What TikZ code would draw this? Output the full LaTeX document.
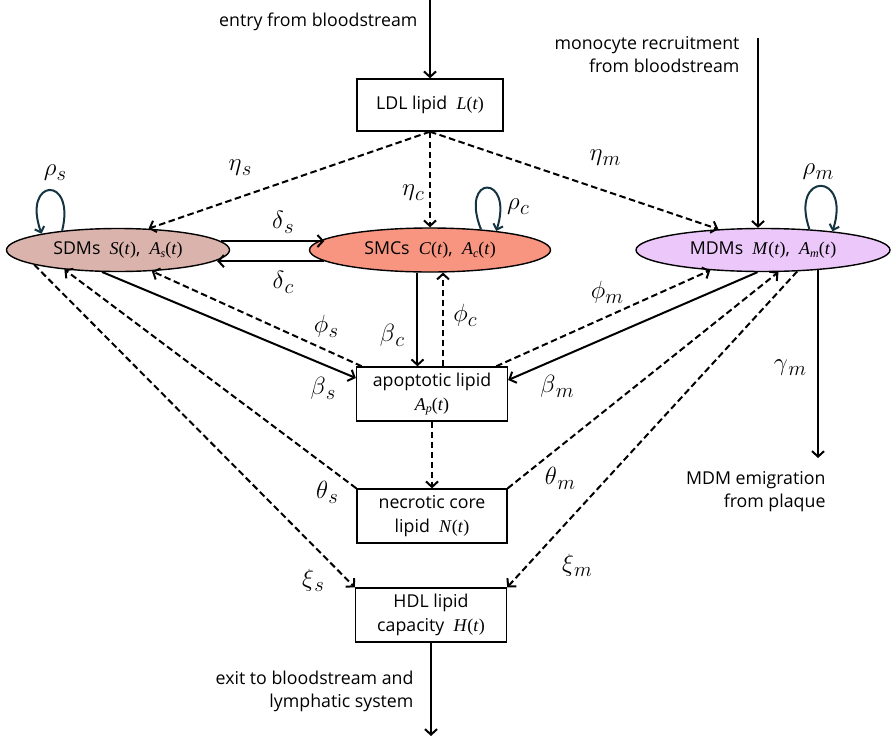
\documentclass[tikz,border=0pt]{standalone}
\usepackage{fontspec}
\setmainfont{Open Sans}
\newfontfamily\tnr{Liberation Serif}
\usetikzlibrary{arrows.meta,shapes.geometric,calc}
\definecolor{sdmcol}{RGB}{219,179,173}
\definecolor{smccol}{RGB}{248,149,128}
\definecolor{mdmcol}{RGB}{236,199,250}
\definecolor{loopcol}{RGB}{20,52,66}
\newcommand{\fn}[1]{{\tnr\fontsize{18}{20}\selectfont\textit{#1}(\textit{t})}}
\newcommand{\fns}[2]{{\tnr\fontsize{18}{20}\selectfont\textit{#1}\raisebox{-0.35ex}{\fontsize{12}{12}\selectfont\textit{#2}}(\textit{t})}}
\newcommand{\rate}[2]{{\fontsize{24.88}{28}\selectfont$#1$}\kern0.3pt\raisebox{-5pt}{\fontsize{20.74}{22}\selectfont$#2$}}
\begin{document}
\begin{tikzpicture}[x=1pt,y=-1pt,
  txt/.style={font=\fontsize{17.75}{23}\selectfont},
  box/.style={draw,line width=1.4pt,inner sep=0pt,align=center,font=\fontsize{17.75}{24}\selectfont},
  cell/.style={ellipse,draw,line width=1.4pt,inner sep=0pt,font=\fontsize{17.75}{20}\selectfont},
  sol/.style={line width=2pt,-{Straight Barb[length=5.5pt,width=12pt,line width=2pt]}},
  dsh/.style={sol,dash pattern=on 6.5pt off 3.5pt},
  lp/.style={line width=2pt,draw=loopcol,-{Straight Barb[length=5pt,width=10pt,line width=2pt]}},
  gl/.style={inner sep=0pt}]
\path[use as bounding box] (0,0) rectangle (891,742);

% boxes
\node[box,minimum width=146pt,minimum height=52pt] (ldl) at (430,105) {LDL lipid\ \ \fn{L}};
\node[box,minimum width=151pt,minimum height=54pt] (apo) at (432,394) {apoptotic lipid\\\fns{A}{p}};
\node[box,minimum width=150pt,minimum height=54pt] (nec) at (432,516) {necrotic core\\lipid\ \ \fn{N}};
\node[box,minimum width=151pt,minimum height=54pt] (hdl) at (431,615) {HDL lipid\\capacity\ \ \fn{H}};

% cell populations
\node[cell,fill=sdmcol,minimum width=223pt,minimum height=43pt] (sdm) at (118,250) {SDMs\ \ \fn{S},\ \ \fns{A}{s}};
\node[cell,fill=smccol,minimum width=241pt,minimum height=44pt] (smc) at (430,250) {SMCs\ \ \fn{C},\ \ \fns{A}{c}};
\node[cell,fill=mdmcol,minimum width=254pt,minimum height=43pt] (mdm) at (763,250) {MDMs\ \ \fn{M},\ \ \fns{A}{m}};

% free ends
\coordinate (entry) at (430,0);
\coordinate (mono) at (758,38);
\coordinate (emig) at (818,458);
\coordinate (exit) at (431,736);

% plain text labels
\node[txt,anchor=east] (entrylab) at (421,22) {entry from bloodstream};
\node[txt,anchor=east,align=right] (monolab) at (743,55) {monocyte recruitment\\from bloodstream};
\node[txt,anchor=east,align=right] (emiglab) at (829,492) {MDM emigration\\from plaque};
\node[txt,anchor=east,align=right] (exitlab) at (417,691) {exit to bloodstream and\\lymphatic system};

% connectors
\draw[sol] (entry) -- (ldl.north);
\draw[sol] (mono) -- (mono |- mdm.north);
\draw[dsh] (ldl.south) -- (sdm.35.6);
\draw[dsh] (ldl.south) -- (smc.north);
\draw[dsh] (ldl.south) -- (mdm.155.9);
\draw[sol] (sdm.5.8) -- (sdm.5.8 -| smc.174.7);
\draw[sol] (smc.186) -- (smc.186 -| sdm.-6.55);
\draw[sol] (sdm.234.8) -- ([yshift=16pt]apo.west);
\draw[dsh] ([xshift=6pt]apo.north west) -- (sdm.-32.8);
\draw[dsh] (sdm.190.1) -- (hdl.north west);
\draw[dsh] (nec.north west) -- (sdm.200.5);
\draw[sol] (smc.241.3) -- (smc.241.3 |- apo.north);
\draw[dsh] (apo.north -| smc.300.7) -- (smc.300.7);
\draw[dsh] (apo.south) -- (nec.north);
\draw[dsh] ([xshift=-12pt]apo.north east) -- (mdm.201.1);
\draw[sol] (mdm.256.9) -- ([yshift=14pt]apo.east);
\draw[dsh] (nec.north east) -- (mdm.305.1);
\draw[dsh] (mdm.328.7) -- (hdl.north east);
\draw[sol] (mdm.340.6) -- (mdm.340.6 |- emig);
\draw[sol] (hdl.south) -- (exit);

% self loops
\draw[lp] (sdm.161.2) .. controls +(14,-56) and +(-20,-56) .. (sdm.168);
\draw[lp] (smc.22.1) .. controls +(-22,-56) and +(18,-57) .. (smc.16.4);
\draw[lp] (mdm.24.1) .. controls +(-20,-58) and +(19,-60) .. (mdm.15.9);

% rate labels
\node[gl] (rhos) at (55,173) {\rate{\rho}{s}};
\node[gl] (rhoc) at (518,207) {\rate{\rho}{c}};
\node[gl] (rhom) at (818,172) {\rate{\rho}{m}};
\node[gl] (etas) at (240,168) {\rate{\eta}{s}};
\node[gl] (etac) at (413,193) {\rate{\eta}{c}};
\node[gl] (etam) at (605,158) {\rate{\eta}{m}};
\node[gl] (dels) at (283,222) {\rate{\delta}{s}};
\node[gl] (delc) at (283,282) {\rate{\delta}{c}};
\node[gl] (phis) at (326,326) {\rate{\phi}{s}};
\node[gl] (bets) at (323,388) {\rate{\beta}{s}};
\node[gl] (betc) at (392,335) {\rate{\beta}{c}};
\node[gl] (phic) at (465,315) {\rate{\phi}{c}};
\node[gl] (phim) at (607,292) {\rate{\phi}{m}};
\node[gl] (betm) at (557,386) {\rate{\beta}{m}};
\node[gl] (gamm) at (790,368) {\rate{\gamma}{m}};
\node[gl] (thes) at (327,492) {\rate{\theta}{s}};
\node[gl] (them) at (560,478) {\rate{\theta}{m}};
\node[gl] (xis) at (313,580) {\rate{\xi}{s}};
\node[gl] (xim) at (577,565) {\rate{\xi}{m}};
\end{tikzpicture}
\end{document}
